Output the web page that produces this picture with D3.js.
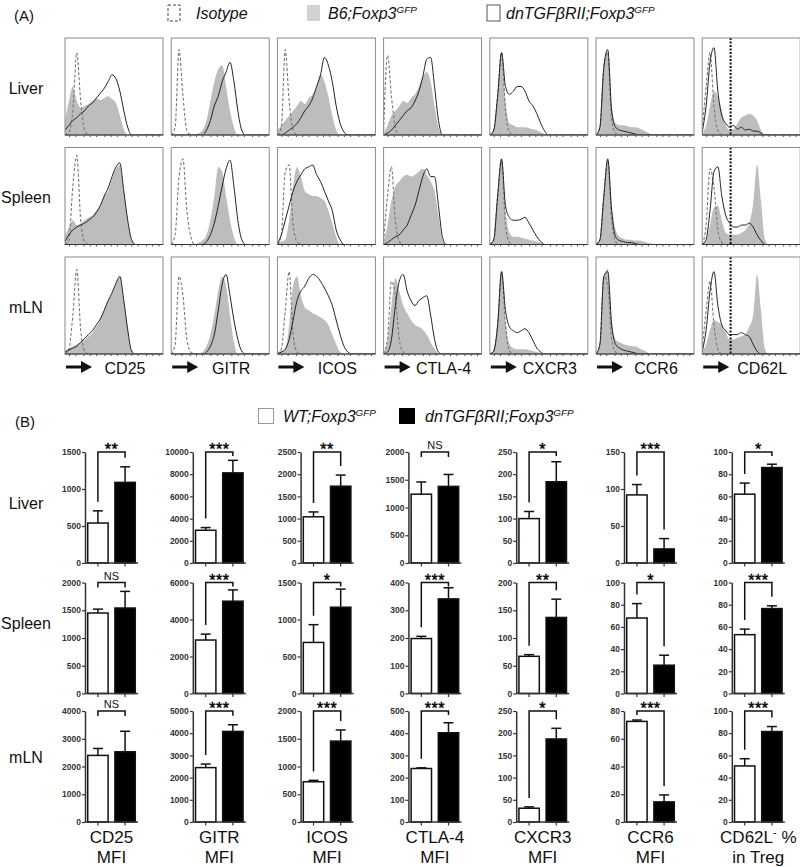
<!DOCTYPE html>
<html><head><meta charset="utf-8">
<script src="https://cdn.jsdelivr.net/npm/d3@7"></script>
<style>body{margin:0;background:#fff}svg{display:block}</style>
</head><body>
<svg id="c" width="800" height="867"></svg>
<script>
// ================= DATA =================
const markers = ["CD25","GITR","ICOS","CTLA-4","CXCR3","CCR6","CD62L"];
const tissues = ["Liver","Spleen","mLN"];
const groups = ["WT","dn"];

// Panel A: histogram sample positions (fraction of fluorescence axis) and heights (% of box)
const histX = [0,0.04,0.08,0.12,0.16,0.20,0.24,0.28,0.32,0.36,0.40,0.44,0.48,0.52,0.56,0.60,0.64,0.68,0.72,0.76];

const liverIsotype = [
  [0,3,25,85,35,5,0],
  [0,8,88,40,5,0],
  [0,8,88,35,5,0],
  [5,82,40,8,0],
  [0,5,40,85,25,3,0],
  [0,8,70,85,15,2,0],
  [5,50,85,30,5,0]
];
const liverB6 = [
  [15,35,50,35,28,30,32,35,38,36,38,40,37,33,20,6,0],
  [0,0,0,0,0,0,0,2,5,15,35,55,68,72,50,25,8,0],
  [5,10,15,20,25,30,35,32,38,42,50,62,55,40,20,5,0],
  [2,10,20,25,30,35,33,38,42,50,60,65,55,30,8,0],
  [0,5,40,85,35,12,10,8,8,8,7,6,5,3,1,0],
  [0,10,72,85,30,12,10,10,9,8,8,7,5,3,1,0],
  [2,10,30,45,40,25,10,5,6,12,18,20,22,20,15,5,0]
];
const liverDn = [
  [5,10,15,18,22,25,30,33,38,43,48,55,62,58,45,25,8,0],
  [0,0,0,0,0,0,0,0,0,5,15,30,40,55,65,75,55,25,5,0],
  [0,0,2,5,8,12,18,25,30,38,50,62,80,72,55,30,12,3,0],
  [0,2,5,10,15,20,25,28,35,45,60,78,80,50,15,0],
  [0,5,40,85,50,42,45,50,50,45,35,30,22,12,4,0],
  [0,8,70,88,25,8,5,4,3,2,1,0],
  [3,30,75,90,45,20,12,8,10,6,8,5,6,4,4,2,0]
];
const spleenIsotype = [
  [0,5,60,92,25,3,0],
  [0,10,70,88,35,8,0],
  [0,10,75,82,20,3,0],
  [3,50,80,25,3,0],
  [0,5,50,88,20,2,0],
  [0,5,50,88,25,3,0],
  [0,20,78,60,15,2,0]
];
const spleenB6 = [
  [8,18,25,20,22,25,28,30,35,40,50,55,68,78,82,55,25,5,0],
  [0,0,0,0,0,0,0,2,4,10,25,50,80,75,50,25,8,0],
  [2,3,5,25,60,80,70,55,52,50,50,48,45,35,22,8,0],
  [2,20,45,60,65,70,72,70,72,75,78,72,65,55,30,5,0],
  [0,5,50,88,35,12,8,8,7,6,5,4,3,2,0],
  [0,5,50,88,40,15,8,6,5,5,4,4,3,2,1,0],
  [0,3,20,38,40,25,12,10,10,10,12,15,22,42,82,45,5,0]
];
const spleenDn = [
  [3,10,15,18,20,22,25,28,33,40,50,58,70,80,84,55,25,5,0],
  [0,0,0,0,0,0,0,0,0,3,10,22,40,60,78,87,60,25,5,0],
  [0,10,25,40,55,65,72,78,80,82,72,65,55,45,35,15,5,0],
  [0,2,5,8,10,15,20,30,40,55,70,78,70,70,40,8,0],
  [0,5,50,88,40,28,25,25,26,28,22,15,8,3,0],
  [0,5,50,88,35,8,4,3,2,2,1,0],
  [0,5,35,75,80,50,30,22,18,18,20,20,22,18,10,4,0]
];
const mlnIsotype = [
  [0,5,40,87,25,3,0],
  [0,10,80,60,15,2,0],
  [0,5,45,85,20,2,0],
  [0,15,75,60,15,2,0],
  [0,3,30,85,30,3,0],
  [0,10,80,70,15,2,0],
  [5,45,75,30,5,0]
];
const mlnB6 = [
  [3,6,8,10,12,15,18,22,28,35,45,55,62,72,80,55,25,3,0],
  [0,0,0,0,0,0,0,0,2,8,20,40,65,80,70,40,12,0],
  [2,3,5,30,70,80,60,48,45,42,40,38,35,30,20,10,2,0],
  [2,15,50,78,65,50,42,35,30,28,25,20,12,5,1,0],
  [0,3,30,85,35,10,6,5,5,5,4,3,2,1,0],
  [0,10,80,88,35,15,12,10,9,8,8,6,4,2,0],
  [2,10,25,35,33,30,22,15,15,17,18,20,28,40,82,45,5,0]
];
const mlnDn = [
  [2,4,6,8,12,16,20,24,30,36,45,55,63,73,80,55,25,3,0],
  [0,0,0,0,0,0,0,0,0,2,8,20,45,72,82,60,35,15,3,0],
  [0,2,5,15,35,55,65,70,78,82,80,75,68,60,50,35,20,8,2,0],
  [0,2,15,50,75,82,65,55,50,55,58,60,40,15,2,0],
  [0,3,30,85,45,28,24,22,24,26,22,14,6,2,0],
  [0,10,80,85,30,10,6,4,3,2,1,0],
  [2,25,65,85,50,30,24,20,20,20,22,20,18,10,3,0]
];
const cd62lGate = 0.29; // gate position on CD62L axis (fraction)

// Panel B: means and SEM
const liverWT    = [540, 2950, 1040, 1240, 100, 92, 62];
const liverWTErr = [165, 240, 110, 220, 16, 14, 10];
const liverDnM   = [1090, 8120, 1730, 1380, 183, 19, 86];
const liverDnErr = [210, 1130, 250, 215, 45, 14, 3];
const spleenWT    = [1450, 2890, 690, 198, 67, 68, 53];
const spleenWTErr = [70, 320, 240, 8, 3, 13, 5];
const spleenDnM   = [1540, 4990, 1166, 341, 137, 25.5, 76.5];
const spleenDnErr = [300, 610, 245, 40, 33, 9, 2.5];
const mlnWT    = [2400, 2450, 725, 241, 31, 72.5, 50.5];
const mlnWTErr = [250, 160, 25, 3, 3, 1, 6.5];
const mlnDnM   = [2530, 4080, 1458, 402, 187, 14.5, 81.5];
const mlnDnErr = [740, 300, 200, 45, 24, 5, 4.5];

const liverTicks  = [[0,500,1000,1500],[0,2000,4000,6000,8000,10000],[0,500,1000,1500,2000,2500],[0,500,1000,1500,2000],[0,50,100,150,200,250],[0,50,100,150],[0,20,40,60,80,100]];
const spleenTicks = [[0,500,1000,1500,2000],[0,2000,4000,6000],[0,500,1000,1500],[0,100,200,300,400],[0,50,100,150,200],[0,20,40,60,80,100],[0,20,40,60,80,100]];
const mlnTicks    = [[0,1000,2000,3000,4000],[0,1000,2000,3000,4000,5000],[0,500,1000,1500,2000],[0,100,200,300,400,500],[0,50,100,150,200,250],[0,20,40,60,80],[0,20,40,60,80,100]];

const liverSig  = ["**","***","**","NS","*","***","*"];
const spleenSig = ["NS","***","*","***","**","*","***"];
const mlnSig    = ["NS","***","***","***","*","***","***"];

const colLabel1 = ["CD25","GITR","ICOS","CTLA-4","CXCR3","CCR6","CD62L"];
const colLabel2 = ["MFI","MFI","MFI","MFI","MFI","MFI","in Treg"];

// ================= LAYOUT =================
const FONT = "'Liberation Sans', Arial, Helvetica, sans-serif";
const svg = d3.select("#c").style("font-family", FONT);

const isoA = [liverIsotype, spleenIsotype, mlnIsotype];
const b6A  = [liverB6, spleenB6, mlnB6];
const dnA  = [liverDn, spleenDn, mlnDn];

const boxX0 = 65, boxStep = 106.2, boxW = 98, boxH = 97;
const rowTopA = [38, 147.5, 257];

function txt(g, x, y, s, size, opts = {}) {
  const t = g.append("text").attr("x", x).attr("y", y).attr("font-size", size)
    .attr("fill", opts.fill || "#111").text(s);
  if (opts.anchor) t.attr("text-anchor", opts.anchor);
  if (opts.italic) t.attr("font-style", "italic");
  if (opts.weight) t.attr("font-weight", opts.weight);
  return t;
}
function withSup(g, x, y, base, sup, size, italic) {
  const t = g.append("text").attr("x", x).attr("y", y).attr("font-size", size).attr("fill", "#111");
  if (italic) t.attr("font-style", "italic");
  t.append("tspan").text(base);
  t.append("tspan").attr("dy", -6).attr("font-size", size * 0.62).text(sup);
  return t;
}

// ---- Panel A header / legend
txt(svg, 14, 21, "(A)", 15);
const legA = svg.append("g");
legA.append("rect").attr("x", 168).attr("y", 5).attr("width", 12).attr("height", 16)
  .attr("fill", "none").attr("stroke", "#444").attr("stroke-dasharray", "3,2");
txt(legA, 196, 19, "Isotype", 16, {italic: true});
legA.append("rect").attr("x", 307).attr("y", 5).attr("width", 13).attr("height", 16).attr("fill", "#d2d2d2");
withSup(legA, 328, 19, "B6;Foxp3", "GFP", 16, true);
legA.append("rect").attr("x", 487).attr("y", 5).attr("width", 13).attr("height", 16)
  .attr("fill", "#fff").attr("stroke", "#555");
withSup(legA, 506, 19, "dnTGFβRII;Foxp3", "GFP", 16, true);

const defs = svg.append("defs");
const padArr = a => histX.map((x, i) => [x, i < a.length ? a[i] : 0]);

tissues.forEach((tis, r) => {
  const y0 = rowTopA[r];
  txt(svg, 26, y0 + boxH / 2 + 7, tis, 16, {anchor: "middle"});
  markers.forEach((m, c) => {
    const x0 = boxX0 + c * boxStep;
    const hx = d3.scaleLinear().domain([0, 1]).range([x0, x0 + boxW]);
    const hy = d3.scaleLinear().domain([0, 100]).range([y0 + boxH, y0]);
    const id = `clip${r}_${c}`;
    defs.append("clipPath").attr("id", id).append("rect")
      .attr("x", x0).attr("y", y0).attr("width", boxW).attr("height", boxH);
    const g = svg.append("g");
    g.append("rect").attr("x", x0).attr("y", y0).attr("width", boxW).attr("height", boxH).attr("fill", "#fff");
    const cg = g.append("g").attr("clip-path", `url(#${id})`);
    const area = d3.area().x(d => hx(d[0])).y0(hy(0)).y1(d => hy(d[1])).curve(d3.curveMonotoneX);
    const line = d3.line().x(d => hx(d[0])).y(d => hy(d[1])).curve(d3.curveMonotoneX);
    const ext = a => padArr(a).concat([[1, 0]]);
    cg.append("path").attr("d", area(ext(b6A[r][c]))).attr("fill", "#bdbdbd");
    cg.append("path").attr("d", line(ext(isoA[r][c]))).attr("fill", "none")
      .attr("stroke", "#777").attr("stroke-width", 1.1).attr("stroke-dasharray", "3,2");
    cg.append("path").attr("d", line(ext(dnA[r][c]))).attr("fill", "none")
      .attr("stroke", "#222").attr("stroke-width", 1);
    if (m === "CD62L") {
      g.append("line").attr("x1", hx(cd62lGate)).attr("x2", hx(cd62lGate))
        .attr("y1", y0).attr("y2", y0 + boxH)
        .attr("stroke", "#111").attr("stroke-width", 2).attr("stroke-dasharray", "2,1.5");
    }
    g.append("rect").attr("x", x0).attr("y", y0).attr("width", boxW).attr("height", boxH)
      .attr("fill", "none").attr("stroke", "#8a8a8a").attr("stroke-width", 1);
    const lx = d3.scaleLog().domain([1, 1e5]).range([x0 + 4, x0 + boxW + 10]);
    const ax = g.append("g").attr("transform", `translate(0,${y0 + boxH})`)
      .call(d3.axisBottom(lx).tickValues([1,2,5,10,20,50,100,200,500,1000,2000,5000,10000,20000,50000].filter(v => lx(v) <= x0 + boxW - 1))
        .tickSize(2).tickSizeOuter(0).tickFormat(""));
    ax.select(".domain").attr("stroke", "#333").attr("d", `M${x0},0H${x0 + boxW}`);
    ax.selectAll(".tick line").attr("stroke", "#555");
    if (r === 2) {
      const ay = 367;
      svg.append("line").attr("x1", x0 + 1).attr("x2", x0 + 19).attr("y1", ay).attr("y2", ay)
        .attr("stroke", "#111").attr("stroke-width", 3);
      svg.append("path").attr("d", `M${x0 + 16},${ay - 6}L${x0 + 27},${ay}L${x0 + 16},${ay + 6}Z`).attr("fill", "#111");
      txt(svg, x0 + 60, ay + 7, m, 16, {anchor: "middle"});
    }
  });
});

// ---- Panel B
txt(svg, 15, 427, "(B)", 15);
svg.append("rect").attr("x", 258.5).attr("y", 408.5).attr("width", 15).attr("height", 15)
  .attr("fill", "#fff").attr("stroke", "#999").attr("stroke-width", 1);
withSup(svg, 283, 422, "WT;Foxp3", "GFP", 16, true);
svg.append("rect").attr("x", 399).attr("y", 408).attr("width", 16).attr("height", 16).attr("fill", "#000");
withSup(svg, 425, 422, "dnTGFβRII;Foxp3", "GFP", 16, true);

const meansB = [[liverWT, liverDnM], [spleenWT, spleenDnM], [mlnWT, mlnDnM]];
const errsB  = [[liverWTErr, liverDnErr], [spleenWTErr, spleenDnErr], [mlnWTErr, mlnDnErr]];
const ticksB = [liverTicks, spleenTicks, mlnTicks];
const sigB   = [liverSig, spleenSig, mlnSig];

const axisX0 = 85, axisStep = 107.8, plotW = 53, plotH = 111;
const rowTopB = [452, 582.5, 711];
const rowLabelYB = [509, 629, 763];

tissues.forEach((tis, r) => {
  txt(svg, 26, rowLabelYB[r], tis, 16, {anchor: "middle"});
  const top = rowTopB[r], bottom = top + plotH;
  markers.forEach((m, c) => {
    const ax = axisX0 + c * axisStep;
    const tk = ticksB[r][c];
    const y = d3.scaleLinear().domain([0, tk[tk.length - 1]]).range([bottom, top]);
    const xb = d3.scaleBand().domain(groups).range([ax, ax + plotW]).paddingInner(0.25).paddingOuter(0.1);
    const bw = xb.bandwidth();
    const g = svg.append("g");
    groups.forEach((grp, k) => {
      const v = meansB[r][k][c], e = errsB[r][k][c];
      const cx = xb(grp) + bw / 2;
      g.append("line").attr("x1", cx).attr("x2", cx).attr("y1", y(v)).attr("y2", y(v + e))
        .attr("stroke", "#111").attr("stroke-width", 1.5);
      g.append("line").attr("x1", cx - 5).attr("x2", cx + 5).attr("y1", y(v + e)).attr("y2", y(v + e))
        .attr("stroke", "#111").attr("stroke-width", 1.5);
      g.append("rect").attr("x", xb(grp)).attr("y", y(v)).attr("width", bw).attr("height", bottom - y(v))
        .attr("fill", k === 0 ? "#fff" : "#000").attr("stroke", "#111").attr("stroke-width", 1.5);
    });
    const ya = g.append("g").attr("transform", `translate(${ax},0)`)
      .call(d3.axisLeft(y).tickValues(tk).tickSize(3).tickSizeOuter(0).tickPadding(1).tickFormat(d3.format("d")));
    ya.select(".domain").attr("stroke", "#333").attr("stroke-width", 1.5);
    ya.selectAll(".tick line").attr("stroke", "#333").attr("stroke-width", 1.2);
    ya.selectAll(".tick text").attr("font-size", 8.5).attr("font-weight", "bold").attr("fill", "#333").attr("font-family", FONT);
    g.append("line").attr("x1", ax).attr("x2", ax + plotW).attr("y1", bottom).attr("y2", bottom)
      .attr("stroke", "#333").attr("stroke-width", 1.5);
    groups.forEach(grp => {
      const cx = xb(grp) + bw / 2;
      g.append("line").attr("x1", cx).attr("x2", cx).attr("y1", bottom).attr("y2", bottom + 3.5)
        .attr("stroke", "#333").attr("stroke-width", 1.2);
    });
    const s = sigB[r][c];
    const cW = xb("WT") + bw / 2, cD = xb("dn") + bw / 2;
    const legEnd = k => {
      if (s === "NS") return top + 5;
      const v = meansB[r][k][c] + errsB[r][k][c];
      return Math.max(top + 4, y(v) - 9);
    };
    g.append("path").attr("d", `M${cW},${legEnd(0)}V${top}H${cD}V${legEnd(1)}`)
      .attr("fill", "none").attr("stroke", "#111").attr("stroke-width", 1.5);
    if (s === "NS") txt(g, (cW + cD) / 2, top - 3, s, 11, {anchor: "middle"});
    else txt(g, (cW + cD) / 2, top + 3, s, 16, {anchor: "middle", fill: "#000"})
      .attr("stroke", "#000").attr("stroke-width", 0.4).attr("letter-spacing", "0.5");
    if (r === 2) {
      const lx = ax + plotW / 2;
      const t1 = svg.append("text").attr("x", lx).attr("y", 843).attr("font-size", 17)
        .attr("text-anchor", "middle").attr("fill", "#111");
      t1.append("tspan").text(colLabel1[c]);
      if (m === "CD62L") {
        t1.append("tspan").attr("dy", -7).attr("font-size", 11).text("-");
        t1.append("tspan").attr("dy", 7).text(" %");
      }
      txt(svg, lx, 863, colLabel2[c], 17, {anchor: "middle"});
    }
  });
});
</script>
</body></html>
